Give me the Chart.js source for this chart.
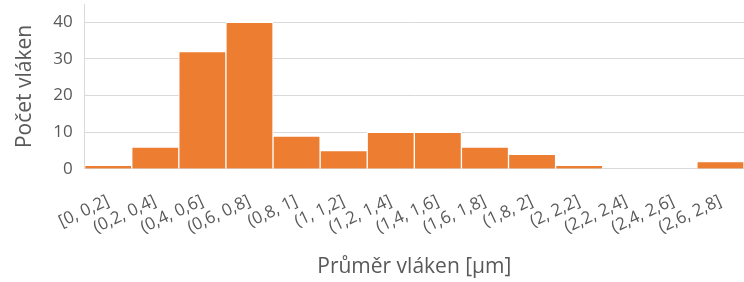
<!DOCTYPE html>
<html>
<head>
<meta charset="utf-8">
<script src="https://cdn.jsdelivr.net/npm/chart.js@4"></script>
<style>
  html, body { margin: 0; padding: 0; background: #fff; }
  #wrap { width: 744px; height: 282px; }
</style>
</head>
<body>
<div id="wrap"><canvas id="mychart"></canvas></div>
<script>
// histogram bins and counts
const binLabels = ['[0, 0,2]', '(0,2, 0,4]', '(0,4, 0,6]', '(0,6, 0,8]', '(0,8, 1]', '(1, 1,2]', '(1,2, 1,4]',
    '(1,4, 1,6]', '(1,6, 1,8]', '(1,8, 2]', '(2, 2,2]', '(2,2, 2,4]', '(2,4, 2,6]', '(2,6, 2,8]'];
const counts = [1, 6, 32, 40, 9, 5, 10, 10, 6, 4, 1, 0, 0, 2];
const yTicks = [0, 10, 20, 30, 40];

const grey = '#595959';

var ctx = document.getElementById('mychart').getContext('2d');
var chart = new Chart(ctx, {
    type: 'bar',
    data: {
        labels: binLabels,
        datasets: [{
            data: counts,
            backgroundColor: '#ED7D31',
            borderColor: '#ffffff',
            borderWidth: 1,
            barPercentage: 1,
            categoryPercentage: 1
        }]
    },
    options: {
        responsive: true,
        maintainAspectRatio: false,
        animation: false,
        layout: { padding: { left: 12, right: 0, top: 4, bottom: 2 } },
        plugins: {
            legend: { display: false },
            tooltip: { enabled: false }
        },
        scales: {
            x: {
                grid: { display: false },
                border: { color: '#d9d9d9' },
                ticks: {
                    color: grey,
                    font: { family: 'Open Sans', size: 17 },
                    minRotation: 25,
                    maxRotation: 25,
                    autoSkip: false,
                    padding: 14
                },
                title: {
                    display: true,
                    text: 'Průměr vláken [µm]',
                    color: grey,
                    font: { family: 'Open Sans', size: 21 },
                    padding: { top: 3, bottom: 0 }
                }
            },
            y: {
                min: 0,
                max: 45,
                afterBuildTicks: function (axis) {
                    axis.ticks = yTicks.map(v => ({ value: v }));
                },
                afterFit: function (axis) {
                    // no extra room above the plot, the top tick is 40 of 45
                    axis.paddingTop = 0;
                },
                grid: { color: '#d9d9d9', drawTicks: false },
                border: { color: '#d9d9d9' },
                ticks: {
                    color: grey,
                    font: { family: 'Open Sans', size: 17 },
                    padding: 12
                },
                title: {
                    display: true,
                    text: 'Počet vláken',
                    color: grey,
                    font: { family: 'Open Sans', size: 21 },
                    padding: { top: 0, bottom: 4 }
                }
            }
        }
    }
});
</script>
</body>
</html>
